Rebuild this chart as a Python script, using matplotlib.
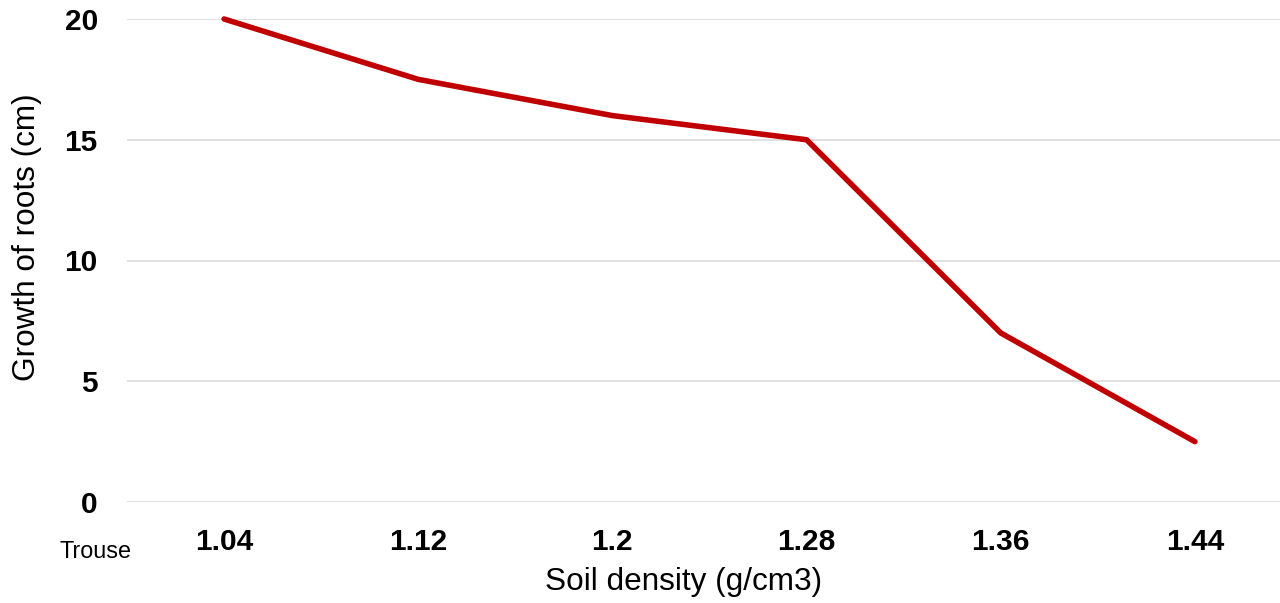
import matplotlib
matplotlib.use("Agg")
import matplotlib.pyplot as plt

plt.rcParams["font.family"] = ["Liberation Sans", "DejaVu Sans"]

density = ["1.04", "1.12", "1.2", "1.28", "1.36", "1.44"]
growth = [20, 17.5, 16, 15, 7, 2.5]
y_ticks = [0, 5, 10, 15, 20]

W, H = 1280, 603
fig = plt.figure(figsize=(W / 100, H / 100), dpi=100)
# plot area runs slightly past the right edge of the image
left, right, top, bottom = 127, 1292, 19, 502
ax = fig.add_axes([left / W, 1 - bottom / H, (right - left) / W, (bottom - top) / H])

x = list(range(len(density)))
ax.plot(x, growth, color="#C00000", linewidth=4.0, solid_capstyle="round",
        solid_joinstyle="round", clip_on=False, zorder=3)

ax.set_xlim(-0.5, len(density) - 0.5)
ax.set_ylim(0, 20)
ax.set_yticks(y_ticks)
ax.set_xticks(x)
ax.set_xticklabels(density)
ax.yaxis.grid(True, color="#D9D9D9", linewidth=1.1)
ax.set_axisbelow(True)
for s in ax.spines.values():
    s.set_visible(False)
ax.tick_params(axis="both", length=0, labelsize=21.5)
ax.tick_params(axis="y", pad=21)
ax.tick_params(axis="x", pad=19)
for lab in ax.get_xticklabels() + ax.get_yticklabels():
    lab.set_fontweight("bold")

ax.set_xlabel("Soil density (g/cm3)", fontsize=22.7, va="center")
ax.xaxis.set_label_coords((684 - left) / (right - left), -(582 - bottom) / (bottom - top))
ax.set_ylabel("Growth of roots (cm)", fontsize=22.7, va="center")
ax.yaxis.set_label_coords(-(left - 27) / (right - left), (bottom - 237) / (bottom - top))

fig.text(95 / W, 1 - 558 / H, "Trouse", fontsize=16.8, ha="center", va="baseline")

fig.savefig("out.png", dpi=100)
